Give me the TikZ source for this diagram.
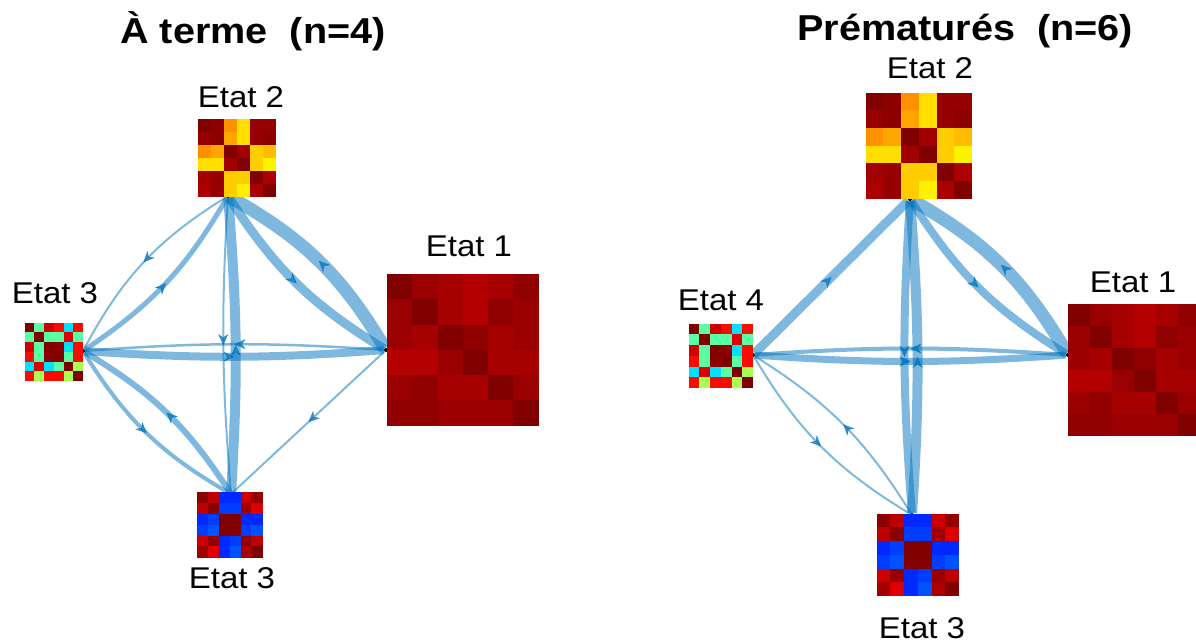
\documentclass[tikz,border=0pt]{standalone}
\usepackage{fontspec}
\setmainfont{Liberation Sans}
\usetikzlibrary{arrows.meta, decorations.markings}
\definecolor{edgeblue}{RGB}{0,114,189}
% reds
\definecolor{r0}{RGB}{128,0,0}
\definecolor{r1}{RGB}{140,0,0}
\definecolor{r2}{RGB}{150,0,0}
\definecolor{r3}{RGB}{162,0,0}
\definecolor{r4}{RGB}{172,0,0}
\definecolor{r5}{RGB}{188,0,0}
\definecolor{r6}{RGB}{205,0,0}
\definecolor{r7}{RGB}{222,0,0}
\definecolor{r8}{RGB}{248,12,0}
% deep reds of Etat 1
\definecolor{q0}{RGB}{128,0,0}
\definecolor{q1}{RGB}{145,0,0}
\definecolor{q2}{RGB}{155,0,0}
\definecolor{q3}{RGB}{166,0,0}
\definecolor{q4}{RGB}{180,0,0}
% oranges, yellows
\definecolor{o1}{RGB}{255,145,0}
\definecolor{o2}{RGB}{255,165,0}
\definecolor{o3}{RGB}{255,188,0}
\definecolor{y1}{RGB}{255,205,0}
\definecolor{y2}{RGB}{255,222,0}
\definecolor{y3}{RGB}{255,242,0}
% cyan, greens, blues
\definecolor{cy}{RGB}{0,225,255}
\definecolor{mt}{RGB}{90,255,165}
\definecolor{lg}{RGB}{170,255,85}
\definecolor{b1}{RGB}{0,40,255}
\definecolor{b2}{RGB}{0,62,255}
\definecolor{b3}{RGB}{0,82,255}

\tikzset{
  mat/.style={rectangle, inner sep=0pt, minimum size=#1},
  vtx/.style={circle, fill=black, inner sep=0pt, minimum size=4pt},
  lbl/.style={inner sep=0pt, font=\fontsize{30}{36}\selectfont},
  ttl/.style={inner sep=0pt, font=\bfseries\fontsize{36}{43}\selectfont},
  edge/.style={
    edgeblue, opacity=0.5, line width=#1pt,
    postaction={decorate},
    decoration={markings, mark=at position 0.5 with
      {\pgfsetfillopacity{0.75}\pgfsetstrokeopacity{0.75}%
       \arrow[line width=0.5pt]{Stealth[length=11pt, width=10pt, inset=3.5pt]}}}
  },
}

\newcommand{\wide}[1]{\scalebox{1.1}[1]{#1}}

% state matrices, row by row
\newcommand{\matOne}{{q0,q2,q3,q4,q3,q1},{q2,q0,q3,q4,q1,q2},{q2,q3,q0,q1,q3,q2},
  {q4,q4,q2,q0,q3,q3},{q2,q1,q3,q3,q0,q2},{q1,q1,q2,q2,q2,q0}}
\newcommand{\matTwo}{{r0,r1,o1,y2,r2,r2},{r2,r1,o2,y2,r2,r1},{o1,o2,r0,r3,y1,o3},
  {y2,y2,r3,r0,y1,y3},{r3,r2,y1,y1,r0,r4},{r4,r2,y1,y3,r4,r0}}
\newcommand{\matMix}{{r0,mt,r6,r8,cy,r8},{mt,r0,mt,mt,r7,mt},{r6,mt,r0,r1,cy,r8},
  {r8,mt,r1,r0,mt,r8},{cy,r7,cy,mt,r0,lg},{r8,lg,r8,r8,lg,r0}}
\newcommand{\matBlue}{{r1,r5,b1,b1,r6,r2},{r5,r1,b2,b2,r3,r7},{b1,b2,r0,r0,b1,b1},
  {b2,b3,r0,r0,b2,b3},{r6,r2,b1,b2,r2,r5},{r3,r7,b1,b3,r4,r0}}

% #1 name, #2 centre, #3 cell size, #4 rows
\newcommand{\heatmap}[4]{%
  \node[mat={6*#3}] (#1) at #2 {};
  \begin{scope}[shift={(#1.north west)}]
    \foreach \cells [count=\i] in #4 {
      \foreach \c [count=\j] in \cells
        \fill[\c] ({(\j-1)*#3},{(\i-1)*#3}) rectangle ++({#3+0.4},{#3+0.4});
    }
  \end{scope}}

\begin{document}
\begin{tikzpicture}[x=1pt, y=-1pt]
  \useasboundingbox (0,0) rectangle (1196,644);

  %% -- A terme -------------------------------------------------------------

  \node[vtx] (tt) at (228,196) {};
  \node[vtx] (tr) at (386,350) {};
  \node[vtx] (tl) at (83,351) {};
  \node[vtx] (tb) at (231,494) {};

  \draw[edge=2]   (tt) to[bend right=15] (tl);
  \draw[edge=5]   (tl) to[bend right=13] (tt);
  \draw[edge=9]   (tt) to[bend right=13] (tr);
  \draw[edge=13]  (tr) to[bend right=15] (tt);
  \draw[edge=2.5] (tr) to[bend right=4] (tl);
  \draw[edge=8]   (tl) to[bend right=4] (tr);
  \draw[edge=2]   (tt) to[bend right=4] (tb);
  \draw[edge=10]  (tb) to[bend right=4] (tt);
  \draw[edge=4]   (tl) to[bend right=14] (tb);
  \draw[edge=6]   (tb) to[bend right=13] (tl);
  \draw[edge=2]   (tr) -- (tb);

  \heatmap{ttm}{(237,158)}{13}{\matTwo}
  \heatmap{trm}{(463,350)}{25.3}{\matOne}
  \heatmap{tlm}{(54,352)}{9.7}{\matMix}
  \heatmap{tbm}{(230,525)}{10.8}{\matBlue}

  \node[ttl] (ttitle) at (253,31) {\wide{À terme\ \ (n=4)}};
  \node[lbl] (ttlab) at (241,97)  {\wide{Etat 2}};
  \node[lbl] (trlab) at (469,246) {\wide{Etat 1}};
  \node[lbl] (tllab) at (55,293)  {\wide{Etat 3}};
  \node[lbl] (tblab) at (232,578) {\wide{Etat 3}};

  %% -- Prematures ----------------------------------------------------------

  \node[vtx] (pt) at (910,199) {};
  \node[vtx] (pr) at (1068,355) {};
  \node[vtx] (pl) at (753,355) {};
  \node[vtx] (pb) at (912,515) {};

  \draw[edge=9]   (pl) -- (pt);
  \draw[edge=8]   (pt) to[bend right=13] (pr);
  \draw[edge=13]  (pr) to[bend right=15] (pt);
  \draw[edge=4]   (pr) to[bend right=4] (pl);
  \draw[edge=7]   (pl) to[bend right=4] (pr);
  \draw[edge=8]   (pt) to[bend right=4] (pb);
  \draw[edge=10]  (pb) to[bend right=4] (pt);
  \draw[edge=2]   (pl) to[bend right=14] (pb);
  \draw[edge=2]   (pb) to[bend right=13] (pl);

  \heatmap{ptm}{(919,146)}{17.7}{\matTwo}
  \heatmap{prm}{(1134,370)}{22}{\matOne}
  \heatmap{plm}{(721,356)}{10.7}{\matMix}
  \heatmap{pbm}{(918,555)}{13.7}{\matBlue}

  \node[ttl] (ptitle) at (965,31) {\wide{Prématurés\ \ (n=6)}};
  \node[lbl] (ptlab) at (930,68)  {\wide{Etat 2}};
  \node[lbl] (prlab) at (1133,282) {\wide{Etat 1}};
  \node[lbl] (pllab) at (721,300) {\wide{Etat 4}};
  \node[lbl] (pblab) at (922,628) {\wide{Etat 3}};

\end{tikzpicture}
\end{document}
